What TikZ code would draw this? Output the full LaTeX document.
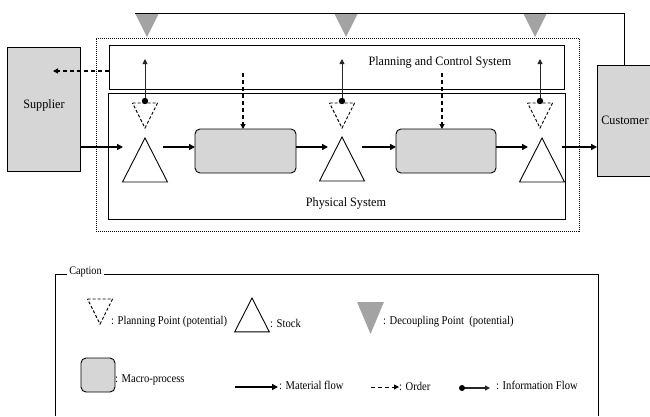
\documentclass[tikz,border=0pt]{standalone}
\usepackage{fontspec}
\setmainfont{Liberation Serif}
\usetikzlibrary{arrows.meta}
\definecolor{boxgray}{HTML}{D6D6D6}
\definecolor{decgray}{HTML}{A3A3A3}
\newcommand{\legtext}[1]{\scalebox{0.89}[1]{#1}}
\tikzset{
  box/.style={draw, line width=0.9pt, inner sep=0pt, outer sep=0pt, anchor=north west},
  graybox/.style={box, fill=boxgray},
  macro/.style={box, fill=boxgray, rounded corners=5pt},
  txt/.style={inner sep=0pt, font=\fontsize{12.8}{14}\selectfont},
  leg/.style={inner sep=0pt, anchor=west, font=\fontsize{11.9}{13}\selectfont},
  mat/.style={line width=1.7pt, -{Triangle[length=6pt,width=6pt]}},
  ord/.style={line width=1.1pt, dash pattern=on 4pt off 3pt, -{Triangle[length=5pt,width=5pt]}},
  infoarr/.style={line width=0.9pt, draw=black!85, -{Triangle[length=5pt,width=5pt]}},
  stock/.pic={\draw[line width=0.9pt] (-22.5,44) -- (22.5,44) -- (0,0) -- cycle;},
  planpt/.pic={\draw[line width=0.9pt, dash pattern=on 3pt off 2pt] (-12.5,0) -- (12.5,0) -- (0,25) -- cycle;},
  decpt/.pic={\fill[decgray] (-11.5,0) -- (11.5,0) -- (0,23) -- cycle;}
}
\begin{document}
\begin{tikzpicture}[x=1pt,y=-1pt]
\useasboundingbox (0,0) rectangle (650,416);
% boxes
\node[graybox, minimum width=73pt, minimum height=124pt] (sup) at (7,47) {};
\node[txt] (supT) at (44,105) {\scalebox{0.95}[1]{Supplier}};
\node[graybox, minimum width=70pt, minimum height=111pt] (cus) at (597,65) {};
\node[txt] (cusT) at (625,120) {\scalebox{0.95}[1]{Customer}};
\node[box, draw, line width=0.7pt, dash pattern=on 1pt off 1pt, minimum width=483pt, minimum height=193pt] (outer) at (96,38) {};
\node[box, minimum width=455pt, minimum height=44pt] (pcs) at (109,45) {};
\node[txt] (pcsT) at (440,62) {\scalebox{0.95}[1]{Planning and Control System}};
\node[box, minimum width=457pt, minimum height=126pt] (phys) at (108,93) {};
\node[txt] (physT) at (346,203) {\scalebox{0.95}[1]{Physical System}};
\node[macro, minimum width=101pt, minimum height=44pt] (m1) at (195,129) {};
\node[macro, minimum width=100pt, minimum height=44pt] (m2) at (396,129) {};
% top line with decoupling points
\coordinate (tl) at (135,13);
\coordinate (tr) at (624,13);
\draw[line width=0.9pt] (tl) -- (tr) -- (tr |- cus.north);
\pic at (147,14) {decpt};
\pic at (346,14) {decpt};
\pic at (535,14) {decpt};
% stocks and planning points
\pic at (145,138) {stock};
\pic at (342,137) {stock};
\pic at (542,138) {stock};
\pic at (145,103) {planpt};
\pic at (342,103) {planpt};
\pic at (540,103) {planpt};
% material flow
\coordinate (s1in) at (123,147);
\coordinate (s1out) at (163,147);
\coordinate (s2in) at (328,147);
\coordinate (s2out) at (362,147);
\coordinate (s3in) at (528,147);
\coordinate (s3out) at (562,147);
\draw[mat] (sup.east |- s1in) -- (s1in);
\draw[mat] (s1out) -- (m1.west |- s1out);
\draw[mat] (m1.east |- s1out) -- (s2in);
\draw[mat] (s2out) -- (m2.west |- s2out);
\draw[mat] (m2.east |- s2out) -- (s3in);
\draw[mat] (s3out) -- (cus.west |- s3out);
% orders
\coordinate (supOrd) at (53,71);
\draw[ord] (pcs.west |- supOrd) -- (supOrd);
\coordinate (o1) at (243,73);
\coordinate (o2) at (442,73);
\draw[ord] (o1) -- (m1.north -| o1);
\draw[ord] (o2) -- (m2.north -| o2);
% information flow
\foreach \x/\n in {145/a,342/b,540/c}{
  \coordinate (i\n) at (\x,101);
  \coordinate (i\n t) at (\x,59);
  \draw[infoarr] (i\n) -- (i\n t);
  \fill (i\n) circle (3.2pt);
}
% caption
\coordinate (cbl) at (55,416);
\coordinate (ctl) at (55,274);
\coordinate (ctr) at (598,274);
\coordinate (cbr) at (598,416);
\draw[line width=0.9pt] (cbl) -- (ctl) -- (ctr) -- (cbr);
\node[inner sep=2pt, fill=white, font=\fontsize{11.5}{12}\selectfont] (capT) at (85.5,272) {\legtext{Caption}};
% legend
\pic at (100,299) {planpt};
\node[leg] (l1) at (111,322) {\legtext{: Planning Point (potential)}};
\pic[scale=0.77] at (252,298) {stock};
\node[leg] (l2) at (270,323) {\legtext{: Stock}};
\pic[xscale=1.17, yscale=1.39] at (370.5,302) {decpt};
\node[leg] (l3) at (383,322) {\legtext{: Decoupling Point\ \ (potential)}};
\node[macro, minimum width=34pt, minimum height=34pt] (lm) at (81,358) {};
\node[leg] (l4) at (115,380) {\legtext{: Macro-process}};
\coordinate (lma) at (235,387);
\coordinate (lmb) at (278,387);
\draw[mat] (lma) -- (lmb);
\node[leg] (l5) at (279,385) {\legtext{: Material flow}};
\coordinate (loa) at (371,387);
\coordinate (lob) at (399,387);
\draw[ord, line width=0.9pt] (loa) -- (lob);
\node[leg] (l6) at (399,386) {\legtext{: Order}};
\coordinate (lia) at (462,388);
\coordinate (lib) at (490,388);
\draw[infoarr, line width=1.1pt] (lia) -- (lib);
\fill (lia) circle (3pt);
\node[leg] (l7) at (496,385) {\legtext{: Information Flow}};
\end{tikzpicture}
\end{document}
